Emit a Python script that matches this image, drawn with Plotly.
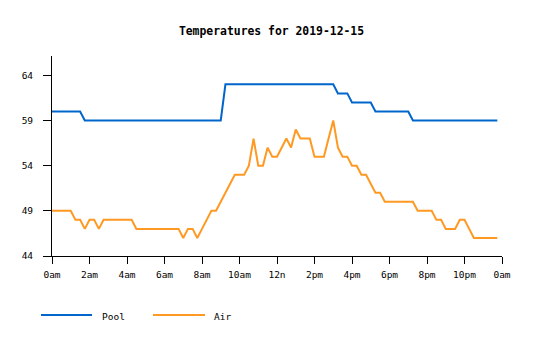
import plotly.graph_objects as go

# time in hours (15-minute samples)
hours = [i * 0.25 for i in range(96)]

pool = ([60] * 7 + [59] * 30 + [63] * 24 + [62] * 3 + [61] * 5 + [60] * 8 + [59] * 19)

air = [49, 49, 49, 49, 49, 48, 48, 47, 48, 48, 47, 48,
       48, 48, 48, 48, 48, 48, 47, 47, 47, 47, 47, 47,
       47, 47, 47, 47, 46, 47, 47, 46, 47, 48, 49, 49,
       50, 51, 52, 53, 53, 53, 54, 57, 54, 54, 56, 55,
       55, 56, 57, 56, 58, 57, 57, 57, 55, 55, 55, 57,
       59, 56, 55, 55, 54, 54, 53, 53, 52, 51, 51, 50,
       50, 50, 50, 50, 50, 50, 49, 49, 49, 49, 48, 48,
       47, 47, 47, 48, 48, 47, 46, 46, 46, 46, 46, 46]

series_names = ["Pool", "Air"]
series_colors = ["#0066cc", "#ff9922"]

x_tickvals = list(range(0, 25, 2))
x_ticktext = ["0am", "2am", "4am", "6am", "8am", "10am", "12n",
              "2pm", "4pm", "6pm", "8pm", "10pm", "0am"]
y_tickvals = [44, 49, 54, 59, 64]

FONT = "DejaVu Sans Mono"

fig = go.Figure()
for name, vals, col in zip(series_names, [pool, air], series_colors):
    fig.add_trace(go.Scatter(x=hours, y=vals, mode="lines", name=name,
                             line=dict(color=col, width=2),
                             showlegend=False))

L, R, T, B = 52, 33, 56, 84
W, H = 535, 340
pw, ph = W - L - R, H - T - B

def px2paper_x(px):
    return (px - L) / pw

def px2paper_y(py):
    return (H - B - py) / ph

shapes = []
annotations = []
legend_items = [(41, 92, 100), (153, 205, 212)]
for (x0, x1, tx), name, col in zip(legend_items, series_names, series_colors):
    shapes.append(dict(type="line", xref="paper", yref="paper",
                       x0=px2paper_x(x0), x1=px2paper_x(x1),
                       y0=px2paper_y(315), y1=px2paper_y(315),
                       line=dict(color=col, width=2)))
    annotations.append(dict(text=name, xref="paper", yref="paper",
                            x=px2paper_x(tx), y=px2paper_y(316),
                            xanchor="left", yanchor="middle", showarrow=False,
                            font=dict(family=FONT, size=9.5, color="black")))

fig.update_layout(
    width=W, height=H,
    margin=dict(l=L, r=R, t=T, b=B),
    paper_bgcolor="white", plot_bgcolor="white",
    title=dict(text="<b>Temperatures for 2019-12-15</b>", x=271.5 / W, xanchor="center",
               y=1 - 31 / H, yanchor="middle",
               font=dict(family=FONT, size=11.4, color="black")),
    font=dict(family=FONT, size=9.5, color="black"),
    shapes=shapes, annotations=annotations,
    xaxis=dict(range=[0, 24], tickvals=x_tickvals, ticktext=x_ticktext,
               showgrid=False, zeroline=False, showline=True, linecolor="black",
               linewidth=1, ticks="outside", ticklen=7, tickcolor="black",
               ticklabelstandoff=3,
               tickfont=dict(family=FONT, size=9.5, color="black")),
    yaxis=dict(range=[44, 66.14], tickvals=y_tickvals,
               showgrid=False, zeroline=False, showline=True, linecolor="black",
               linewidth=1, ticks="outside", ticklen=8, tickcolor="black",
               ticklabelstandoff=8,
               tickfont=dict(family=FONT, size=9.5, color="black")),
)

fig.write_html("out.html")
